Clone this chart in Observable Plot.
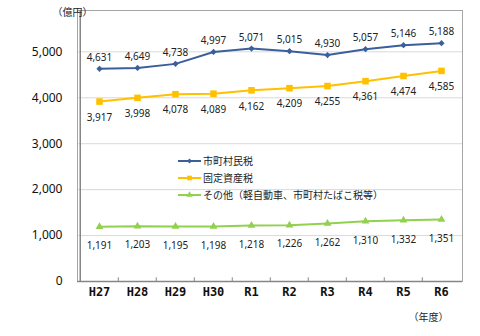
<!DOCTYPE html>
<html><head><meta charset="utf-8">
<script src="https://cdn.jsdelivr.net/npm/d3@7"></script>
<script src="https://cdn.jsdelivr.net/npm/@observablehq/plot@0.6"></script>
<style>
body{margin:0;background:#fff}
#c{width:480px;height:336px}
</style>
</head><body><div id="c"></div>
<script>
const years = ["H27","H28","H29","H30","R1","R2","R3","R4","R5","R6"];
const shiminzei = [4631,4649,4738,4997,5071,5015,4930,5057,5146,5188];
const koteishisanzei = [3917,3998,4078,4089,4162,4209,4255,4361,4474,4585];
const sonota = [1191,1203,1195,1198,1218,1226,1262,1310,1332,1351];
const seriesNames = ["市町村民税","固定資産税","その他（軽自動車、市町村たばこ税等）"];
const seriesValues = [shiminzei, koteishisanzei, sonota];
const yTicks = [0,1000,2000,3000,4000,5000];
const colors = ["#3b5f9c","#ffc000","#92d050"];
const yUnit = "（億円）";
const xUnit = "（年度）";

const data = [];
seriesNames.forEach((s, i) => seriesValues[i].forEach((v, j) => data.push({series: s, year: years[j], value: v})));
const fmt = d3.format(",");
const numFont = "'Noto Sans', 'Liberation Sans', sans-serif";
const cjkFont = "'Noto Sans CJK JP', sans-serif";
const W = 480, H = 336, mL = 77, mR = 18, mT = 10, mB = 55;
const half = (W - mL - mR) / years.length / 2;

const bySeries = i => data.filter(d => d.series === seriesNames[i]);

const chart = Plot.plot({
  width: W, height: H,
  marginLeft: mL, marginRight: mR, marginTop: mT, marginBottom: mB,
  style: {background: "#fff", fontFamily: numFont},
  x: {type: "band", domain: years, padding: 0, axis: null},
  y: {domain: [0, 5900], axis: null},
  color: {domain: seriesNames, range: colors},
  marks: [
    Plot.ruleY(yTicks.slice(1), {stroke: "#d9d9d9", strokeWidth: 1}),
    Plot.frame({stroke: "#a6a6a6", strokeWidth: 1}),
    Plot.ruleY([0], {stroke: "#868686", strokeWidth: 1.5}),
    Plot.ruleX([years[0]], {dx: -half, stroke: "#868686", strokeWidth: 1.5}),
    Plot.ruleX(years.slice(1), {y1: 0, y2: 80, dx: -half, stroke: "#868686", strokeWidth: 1}),
    Plot.line(data, {x: "year", y: "value", z: "series", stroke: "series", strokeWidth: 2}),
    Plot.dot(bySeries(0), {x: "year", y: "value", symbol: "diamond2", fill: "series", r: 2.8}),
    Plot.dot(bySeries(1), {x: "year", y: "value", symbol: "square", fill: "series", r: 3.7}),
    Plot.dot(bySeries(2), {x: "year", y: "value", symbol: "triangle", fill: "series", r: 2.9}),
    Plot.text(bySeries(0), {x: "year", y: "value", text: d => fmt(d.value), dy: -11, fontSize: 10, fill: "#222"}),
    Plot.text(bySeries(1), {x: "year", y: "value", text: d => fmt(d.value), dy: 16, fontSize: 10, fill: "#222"}),
    Plot.text(bySeries(2), {x: "year", y: "value", text: d => fmt(d.value), dy: 19, fontSize: 10, fill: "#222"}),
    Plot.text(yTicks, {y: d => d, text: d => fmt(d), frameAnchor: "left", dx: -15, textAnchor: "end", fontSize: 12, fill: "#111"}),
    Plot.text(years, {x: d => d, text: d => d, frameAnchor: "bottom", dy: 14, fontSize: 12, fontWeight: 600, fontFamily: "'DejaVu Sans Mono', monospace", fill: "#111"}),
    Plot.text([yUnit], {text: d => d, frameAnchor: "top-left", dx: -25, dy: -2, fontSize: 10, fontFamily: cjkFont, fill: "#222"}),
    Plot.text([xUnit], {text: d => d, frameAnchor: "bottom-right", dx: -14, dy: 39, fontSize: 10, fontFamily: cjkFont, fill: "#222"})
  ]
});
document.getElementById("c").appendChild(chart);

// Legend inside the plot area
const svg = d3.select(chart);
const lg = svg.append("g").attr("transform", "translate(178,161)");
const syms = [d3.symbolDiamond2, d3.symbolSquare, d3.symbolTriangle];
const symSizes = [16, 22, 18];
seriesNames.forEach((name, i) => {
  const g = lg.append("g").attr("transform", `translate(0,${i * 17})`);
  g.append("line").attr("x1", 0).attr("x2", 23).attr("stroke", colors[i]).attr("stroke-width", 2);
  g.append("path").attr("d", d3.symbol(syms[i], symSizes[i])()).attr("transform", "translate(11.5,0)").attr("fill", colors[i]);
  g.append("text").attr("x", 25).attr("dy", "0.35em").attr("text-anchor", "start").attr("font-size", 10).attr("font-family", cjkFont).attr("fill", "#222").text(name);
});
</script>
</body></html>
